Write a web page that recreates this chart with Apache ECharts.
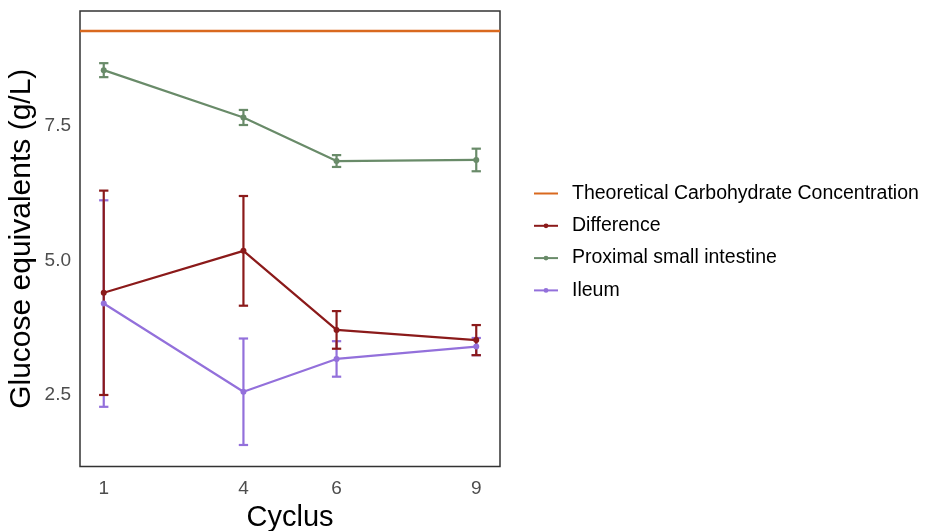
<!DOCTYPE html>
<html>
<head>
<meta charset="utf-8">
<script src="https://cdn.jsdelivr.net/npm/echarts@6/dist/echarts.min.js"></script>
<style>
  html, body { margin: 0; padding: 0; background: #fff; }
  #chart { width: 930px; height: 531px; }
</style>
</head>
<body>
<div id="chart"></div>
<script>
// Cycles sampled
const cycles = [1, 4, 6, 9];
const xTicks = [1, 4, 6, 9];
const yTicks = [2.5, 5.0, 7.5];

// Theoretical carbohydrate concentration (g/L)
const theoretical = 9.27;

// Means and standard deviations per cycle (g/L glucose equivalents)
const differenceMean = [4.40, 5.18, 3.71, 3.52];
const differenceSd   = [1.90, 1.02, 0.35, 0.28];
const proximalMean   = [8.54, 7.66, 6.85, 6.87];
const proximalSd     = [0.13, 0.14, 0.11, 0.21];
const ileumMean      = [4.20, 2.56, 3.17, 3.40];
const ileumSd        = [1.92, 0.99, 0.33, 0.16];

const names = {
  theo: 'Theoretical Carbohydrate Concentration',
  diff: 'Difference',
  prox: 'Proximal small intestine',
  ileum: 'Ileum'
};
const colors = {
  theo: '#D9691F',
  diff: '#8B1A1A',
  prox: '#698B69',
  ileum: '#9370DB'
};

const capHalf = 0.1; // error bar cap half-width in cycle units
const strokeW = 2.2;

function points(means) {
  return cycles.map((c, i) => [c, means[i]]);
}
function bars(means, sds) {
  return cycles.map((c, i) => [c, means[i] - sds[i], means[i] + sds[i]]);
}

function lineSeries(key, means) {
  return {
    name: names[key],
    type: 'line',
    data: points(means),
    symbol: 'circle',
    symbolSize: 6,
    color: colors[key],
    lineStyle: { width: strokeW, color: colors[key] },
    itemStyle: { color: colors[key] },
    emphasis: { disabled: true },
    z: 3
  };
}

function errorSeries(key, means, sds) {
  const col = colors[key];
  return {
    name: names[key] + ' SD',
    type: 'custom',
    data: bars(means, sds),
    z: 3,
    renderItem: function (params, api) {
      const x = api.value(0);
      const lo = api.coord([x, api.value(1)]);
      const hi = api.coord([x, api.value(2)]);
      const loL = api.coord([x - capHalf, api.value(1)]);
      const loR = api.coord([x + capHalf, api.value(1)]);
      const hiL = api.coord([x - capHalf, api.value(2)]);
      const hiR = api.coord([x + capHalf, api.value(2)]);
      const style = { stroke: col, lineWidth: strokeW, fill: null };
      return {
        type: 'group',
        children: [
          { type: 'line', shape: { x1: lo[0], y1: lo[1], x2: hi[0], y2: hi[1] }, style: style },
          { type: 'line', shape: { x1: loL[0], y1: loL[1], x2: loR[0], y2: loR[1] }, style: style },
          { type: 'line', shape: { x1: hiL[0], y1: hiL[1], x2: hiR[0], y2: hiR[1] }, style: style }
        ]
      };
    }
  };
}

const chart = echarts.init(document.getElementById('chart'), null, { renderer: 'canvas' });

const fontFamily = '"Liberation Sans", Arial, sans-serif';

chart.setOption({
  animation: false,
  backgroundColor: '#ffffff',
  grid: {
    left: 80, right: 430, top: 11, bottom: 64.5,
    outerBoundsMode: 'none',
    containLabel: false,
    show: true,
    borderColor: '#333333',
    borderWidth: 1.5,
    backgroundColor: 'transparent'
  },
  xAxis: {
    type: 'value',
    min: 0.49,
    max: 9.51,
    name: 'Cyclus',
    nameLocation: 'middle',
    nameGap: 36,
    nameTextStyle: { fontFamily: fontFamily, fontSize: 29, color: '#000' },
    axisLine: { show: false },
    axisTick: { show: false },
    splitLine: { show: false },
    axisLabel: {
      customValues: xTicks,
      fontFamily: fontFamily,
      fontSize: 19,
      color: '#4D4D4D',
      margin: 13
    }
  },
  yAxis: {
    type: 'value',
    min: 1.17,
    max: 9.64,
    name: 'Glucose equivalents (g/L)',
    nameLocation: 'middle',
    nameGap: 43,
    nameTextStyle: { fontFamily: fontFamily, fontSize: 30, color: '#000' },
    axisLine: { show: false },
    axisTick: { show: false },
    splitLine: { show: false },
    axisLabel: {
      customValues: yTicks,
      formatter: v => v.toFixed(1),
      fontFamily: fontFamily,
      fontSize: 19,
      color: '#4D4D4D',
      margin: 9,
      padding: [4, 0, 0, 0]
    }
  },
  legend: {
    orient: 'vertical',
    left: 533,
    top: 183.5,
    padding: 0,
    itemWidth: 24,
    itemHeight: 6,
    itemGap: 12.3,
    data: [
      { name: names.theo, itemStyle: { opacity: 0 } },
      names.diff,
      names.prox,
      names.ileum
    ],
    textStyle: {
      fontFamily: fontFamily,
      fontSize: 19.5,
      lineHeight: 20,
      color: '#000',
      padding: [0, 0, 0, 9]
    },
    selectedMode: false
  },
  series: [
    {
      name: names.theo,
      type: 'line',
      data: [],
      symbol: 'none',
      color: colors.theo,
      lineStyle: { width: strokeW, color: colors.theo },
      markLine: {
        silent: true,
        symbol: 'none',
        label: { show: false },
        lineStyle: { color: colors.theo, width: 2.4, type: 'solid' },
        data: [{ yAxis: theoretical }]
      },
      z: 2
    },
    errorSeries('ileum', ileumMean, ileumSd),
    lineSeries('ileum', ileumMean),
    errorSeries('prox', proximalMean, proximalSd),
    lineSeries('prox', proximalMean),
    lineSeries('diff', differenceMean),
    errorSeries('diff', differenceMean, differenceSd)
  ]
});
</script>
</body>
</html>
